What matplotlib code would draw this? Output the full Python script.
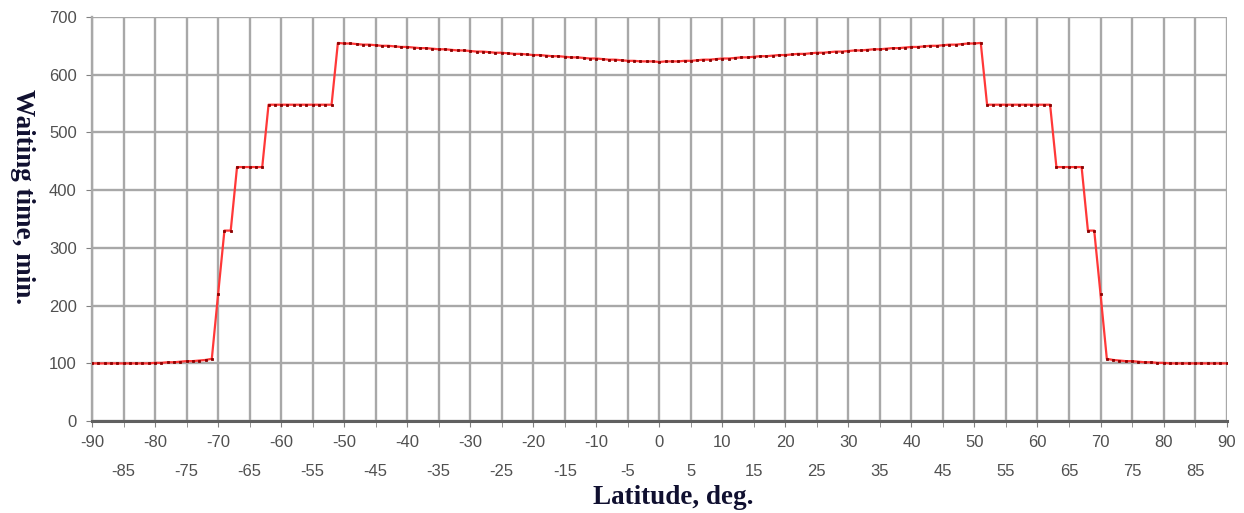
import numpy as np
import matplotlib.pyplot as plt

# Latitude, deg (every 1 degree)
latitude = np.arange(-90, 91, 1)

# Waiting time, min.
waiting = [
    100, 100, 100, 100, 100, 100, 100, 100, 100, 100, 101,   # -90..-80
    101, 102, 102, 103, 104, 104, 105, 106, 108,             # -79..-71
    220,                                                     # -70
    330, 330,                                                # -69..-68
    440, 440, 440, 440, 440,                                 # -67..-63
    548, 548, 548, 548, 548, 548, 548, 548, 548, 548, 548,   # -62..-52
    655, 654, 654, 653, 652, 652, 651, 650, 650, 649,        # -51..-42
    648, 648, 647, 646, 646, 645, 644, 644, 643, 642,        # -41..-32
    642, 641, 640, 640, 639, 638, 638, 637, 636, 636,        # -31..-22
    635, 634, 634, 633, 632, 632, 631, 630, 630, 629,        # -21..-12
    628, 628, 627, 626, 626, 625, 624, 624, 623, 623,        # -11..-2
    623,                                                     # -1
    622,                                                     # 0
    623,                                                     # 1
    623, 623, 624, 624, 625, 626, 626, 627, 628, 628,        # 2..11
    629, 630, 630, 631, 632, 632, 633, 634, 634, 635,        # 12..21
    636, 636, 637, 638, 638, 639, 640, 640, 641, 642,        # 22..31
    642, 643, 644, 644, 645, 646, 646, 647, 648, 648,        # 32..41
    649, 650, 650, 651, 652, 652, 653, 654, 654, 655,        # 42..51
    548, 548, 548, 548, 548, 548, 548, 548, 548, 548, 548,   # 52..62
    440, 440, 440, 440, 440,                                 # 63..67
    330, 330,                                                # 68..69
    220,                                                     # 70
    108, 106, 105, 104, 104, 103, 102, 102, 101,             # 71..79
    101, 100, 100, 100, 100, 100, 100, 100, 100, 100, 100,   # 80..90
]

major_ticks = np.arange(-90, 91, 10)
minor_ticks = np.arange(-85, 90, 10)
y_ticks = np.arange(0, 701, 100)

fig = plt.figure(figsize=(12.44, 5.13), dpi=100)
ax = fig.add_axes([0.074, 0.179, 0.912, 0.788])

ax.plot(latitude, waiting, color='#ff3838', linewidth=1.6,
        marker='s', markersize=1.7, markerfacecolor='#8b0000',
        markeredgecolor='#8b0000', markeredgewidth=0.6, zorder=3)

ax.set_xlim(-90, 90)
ax.set_ylim(0, 700)
ax.set_xticks(major_ticks)
ax.set_xticks(minor_ticks, minor=True)
ax.set_xticklabels([str(v) for v in major_ticks])
ax.set_xticklabels([str(v) for v in minor_ticks], minor=True)
ax.set_yticks(y_ticks)

ax.grid(which='both', color='#a8a8a8', linewidth=1.7)
ax.set_axisbelow(True)

ax.tick_params(axis='both', which='both', labelsize=12, labelcolor='#505050',
               color='#808080', length=4, direction='out')
ax.tick_params(axis='x', which='major', pad=6)
ax.tick_params(axis='x', which='minor', pad=27)
ax.tick_params(axis='y', pad=7)

for s in ['top', 'right']:
    ax.spines[s].set_visible(False)
ax.spines['left'].set_color('#a8a8a8')
ax.spines['left'].set_linewidth(1.7)
ax.spines['bottom'].set_color('#606060')
ax.spines['bottom'].set_linewidth(2.2)

for lbl in ax.get_xticklabels(which='both') + ax.get_yticklabels():
    lbl.set_fontfamily('Liberation Sans')

fig.text(673 / 1244, 1 - 498 / 513, 'Latitude, deg.', fontsize=19.5,
         fontweight='bold', family='Liberation Serif', color='#101030',
         ha='center', va='center')
fig.text(22 / 1244, 1 - 197 / 513, 'Waiting time, min.', fontsize=19.5,
         fontweight='bold', family='Liberation Serif', color='#101030',
         ha='center', va='center', rotation=270)

fig.savefig('out.png', dpi=100)
